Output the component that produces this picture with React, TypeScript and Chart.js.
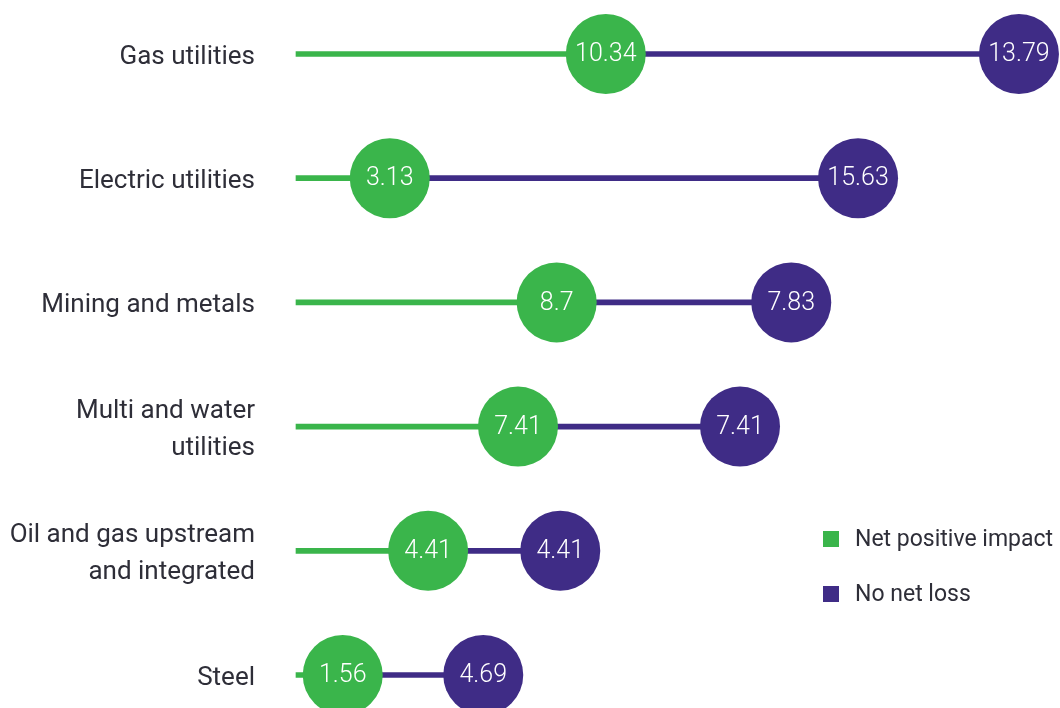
import React, { useEffect, useRef } from "react";
import { Chart, registerables } from "chart.js";

Chart.register(...registerables);

const categories: (string | string[])[] = [
  "Gas utilities",
  "Electric utilities",
  "Mining and metals",
  ["Multi and water", "utilities"],
  ["Oil and gas upstream", "and integrated"],
  "Steel",
];
const netPositiveImpact = [10.34, 3.13, 8.7, 7.41, 4.41, 1.56];
const noNetLoss = [13.79, 15.63, 7.83, 7.41, 4.41, 4.69];
const seriesNames = ["Net positive impact", "No net loss"];

const GREEN = "#3ab54b";
const PURPLE = "#3f2c86";
const TEXT = "#2e2e38";
const FONT = "Roboto, 'Noto Sans', sans-serif";

export default function App() {
  const ref = useRef<HTMLCanvasElement | null>(null);

  useEffect(() => {
    if (!ref.current) return;
    const noNetLossEnd = netPositiveImpact.map((v, i) => v + noNetLoss[i]);

    const labelsPlugin = {
      id: "valueLabels",
      afterDatasetsDraw(chart: any) {
        const ctx = chart.ctx;
        const sets = [
          { idx: 2, vals: netPositiveImpact },
          { idx: 3, vals: noNetLoss },
        ];
        ctx.save();
        ctx.fillStyle = "#ffffff";
        ctx.font = `300 25px ${FONT}`;
        ctx.textAlign = "center";
        ctx.textBaseline = "middle";
        sets.forEach(({ idx, vals }) => {
          const meta = chart.getDatasetMeta(idx);
          meta.data.forEach((pt: any, i: number) => {
            ctx.fillText(String(vals[i]), pt.x, pt.y + 1);
          });
        });
        ctx.restore();
      },
    };

    const legendPlugin = {
      id: "customLegend",
      afterDraw(chart: any) {
        const ctx = chart.ctx;
        const colors = [GREEN, PURPLE];
        ctx.save();
        ctx.font = `400 23px ${FONT}`;
        ctx.textAlign = "left";
        ctx.textBaseline = "middle";
        seriesNames.forEach((name, i) => {
          const y = 539 + i * 55;
          ctx.fillStyle = colors[i];
          ctx.fillRect(823, y - 8, 16, 16);
          ctx.fillStyle = TEXT;
          ctx.fillText(name, 855, y + 1);
        });
        ctx.restore();
      },
    };

    const chart = new Chart(ref.current, {
      type: "bar",
      data: {
        labels: categories as any,
        datasets: [
          {
            type: "bar",
            label: seriesNames[0] + " line",
            data: netPositiveImpact.map((v) => [0, v]) as any,
            backgroundColor: GREEN,
            barThickness: 5,
            grouped: false,
            clip: false,
            order: 2,
          } as any,
          {
            type: "bar",
            label: seriesNames[1] + " line",
            data: netPositiveImpact.map((v, i) => [v, noNetLossEnd[i]]) as any,
            backgroundColor: PURPLE,
            barThickness: 5,
            grouped: false,
            clip: false,
            order: 2,
          } as any,
          {
            type: "line",
            label: seriesNames[0],
            indexAxis: "y",
            data: netPositiveImpact,
            showLine: false,
            pointRadius: 40,
            pointHoverRadius: 40,
            pointBackgroundColor: GREEN,
            pointBorderWidth: 0,
            borderColor: GREEN,
            clip: false,
            order: 0,
          } as any,
          {
            type: "line",
            label: seriesNames[1],
            indexAxis: "y",
            data: noNetLossEnd,
            showLine: false,
            pointRadius: 40,
            pointHoverRadius: 40,
            pointBackgroundColor: PURPLE,
            pointBorderWidth: 0,
            borderColor: PURPLE,
            clip: false,
            order: 1,
          } as any,
        ],
      },
      options: {
        indexAxis: "y",
        responsive: false,
        animation: false,
        events: [],
        layout: { autoPadding: false, padding: { top: 54, bottom: 33, left: 0, right: 0 } } as any,
        plugins: {
          legend: { display: false },
          tooltip: { enabled: false },
        },
        scales: {
          x: {
            type: "linear",
            display: false,
            min: 0,
            max: 25.5,
          },
          y: {
            type: "category",
            offset: false,
            border: { display: false },
            grid: { display: false, drawTicks: false },
            ticks: {
              color: TEXT,
              font: { family: FONT, size: 26, weight: "400" as any, lineHeight: 1.42 },
              padding: 41,
              crossAlign: "near",
              labelOffset: 3,
            },
            afterFit(scale: any) {
              scale.width = 296;
              scale.paddingTop = 0;
              scale.paddingBottom = 0;
            },
          } as any,
        },
      },
      plugins: [labelsPlugin, legendPlugin],
    });
    return () => chart.destroy();
  }, []);

  return (
    <div style={{ position: "absolute", left: 0, top: 0, width: 1060, height: 708, background: "#ffffff" }}>
      <canvas ref={ref} width={1060} height={708} />
    </div>
  );
}
